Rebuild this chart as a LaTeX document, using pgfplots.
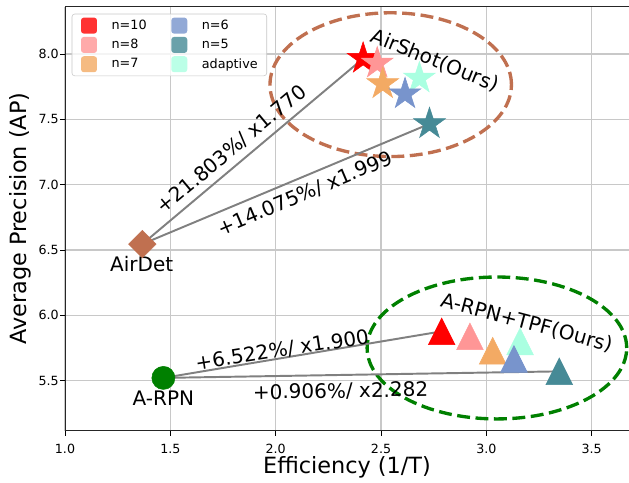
\documentclass[border=0pt]{standalone}
\usepackage{fontspec}
\setmainfont{DejaVu Sans}
\usepackage{pgfplots}
\pgfplotsset{compat=1.18}
\usetikzlibrary{arrows.meta}

\definecolor{cten}{RGB}{255,0,0}
\definecolor{ceight}{RGB}{255,150,150}
\definecolor{cseven}{RGB}{243,170,100}
\definecolor{csix}{RGB}{120,148,204}
\definecolor{cfive}{RGB}{70,138,150}
\definecolor{cada}{RGB}{170,255,225}
\definecolor{cbrown}{RGB}{192,112,80}
\definecolor{cgreen}{RGB}{0,128,0}
\definecolor{cline}{RGB}{128,128,128}
\definecolor{cgrid}{RGB}{200,200,200}

\pgfdeclareplotmark{fstar}{%
  \pgfpathmoveto{\pgfqpoint{0pt}{\pgfplotmarksize}}%
  \pgfpathlineto{\pgfqpoint{-0.2245\pgfplotmarksize}{0.309\pgfplotmarksize}}%
  \pgfpathlineto{\pgfqpoint{-0.951\pgfplotmarksize}{0.309\pgfplotmarksize}}%
  \pgfpathlineto{\pgfqpoint{-0.3633\pgfplotmarksize}{-0.118\pgfplotmarksize}}%
  \pgfpathlineto{\pgfqpoint{-0.588\pgfplotmarksize}{-0.809\pgfplotmarksize}}%
  \pgfpathlineto{\pgfqpoint{0pt}{-0.382\pgfplotmarksize}}%
  \pgfpathlineto{\pgfqpoint{0.588\pgfplotmarksize}{-0.809\pgfplotmarksize}}%
  \pgfpathlineto{\pgfqpoint{0.3633\pgfplotmarksize}{-0.118\pgfplotmarksize}}%
  \pgfpathlineto{\pgfqpoint{0.951\pgfplotmarksize}{0.309\pgfplotmarksize}}%
  \pgfpathlineto{\pgfqpoint{0.2245\pgfplotmarksize}{0.309\pgfplotmarksize}}%
  \pgfpathclose
  \pgfusepathqfillstroke}
\pgfdeclareplotmark{ftri}{%
  \pgfpathmoveto{\pgfqpoint{0pt}{\pgfplotmarksize}}%
  \pgfpathlineto{\pgfqpoint{-\pgfplotmarksize}{-\pgfplotmarksize}}%
  \pgfpathlineto{\pgfqpoint{\pgfplotmarksize}{-\pgfplotmarksize}}%
  \pgfpathclose
  \pgfusepathqfillstroke}
\pgfdeclareplotmark{fdia}{%
  \pgfpathmoveto{\pgfqpoint{0pt}{\pgfplotmarksize}}%
  \pgfpathlineto{\pgfqpoint{-\pgfplotmarksize}{0pt}}%
  \pgfpathlineto{\pgfqpoint{0pt}{-\pgfplotmarksize}}%
  \pgfpathlineto{\pgfqpoint{\pgfplotmarksize}{0pt}}%
  \pgfpathclose
  \pgfusepathqfillstroke}

\begin{document}
\begin{tikzpicture}
\begin{axis}[
  scale only axis, width=406.1pt, height=305.6pt,
  xmin=1.0, xmax=3.677, ymin=5.115, ymax=8.363,
  xtick={1.0,1.5,2.0,2.5,3.0,3.5}, ytick={5.5,6.0,6.5,7.0,7.5,8.0},
  /pgf/number format/.cd, fixed, fixed zerofill, precision=1, assume math mode=true,
  /pgfplots/.cd,
  tick label style={font=\fontsize{9.1}{11}\selectfont, color=black},
  xticklabel style={yshift=-2.3pt},
  yticklabel style={xshift=2.5pt},
  tick align=outside, tick pos=left, major tick length=3.5pt,
  tick style={line width=0.6pt, color=black},
  grid=major, grid style={color=cgrid, line width=0.8pt},
  axis line style={line width=0.7pt, color=black!85},
  xlabel={Efficiency (1/T)}, ylabel={Average Precision (AP)},
  label style={font=\fontsize{16.1}{19}\selectfont},
  xlabel style={at={(axis description cs:0.5,-0.0848)}, anchor=center},
  ylabel style={at={(axis description cs:-0.0798,0.5)}, anchor=center},
  legend columns=2,
  legend cell align=left,
  legend image code/.code={\fill[#1, draw=none] (0pt,-5.75pt) rectangle (11.5pt,5.75pt); \path[draw=none, fill=none] (0pt,0pt) -- (22pt,0pt);},
  legend style={at={(axis description cs:0.0119,0.983)}, anchor=north west,
    draw=cgrid, fill=white, fill opacity=0.8, text opacity=1, rounded corners=2pt,
    font=\fontsize{9.2}{11}\selectfont, nodes={inner sep=0pt},
    row sep=2.4pt, column sep=0pt, inner xsep=6.5pt, inner ysep=2.6pt},
]
\addlegendimage{fill=cten}\addlegendentry{\makebox[43pt][l]{n=10}}
\addlegendimage{fill=csix}\addlegendentry{n=6}
\addlegendimage{fill=ceight}\addlegendentry{\makebox[43pt][l]{n=8}}
\addlegendimage{fill=cfive}\addlegendentry{n=5}
\addlegendimage{fill=cseven}\addlegendentry{\makebox[43pt][l]{n=7}}
\addlegendimage{fill=cada}\addlegendentry{adaptive}

% ellipses
\draw[cbrown, line width=2.4pt, dash pattern=on 9.3pt off 4pt] (axis cs:2.546,7.765) ellipse [x radius=0.573, y radius=0.55];
\draw[cgreen, line width=2.4pt, dash pattern=on 9.3pt off 4pt] (axis cs:3.050,5.750) ellipse [x radius=0.616, y radius=0.543];

% baselines
\addplot[forget plot, only marks, mark=fdia, mark size=9.9pt, color=cbrown] coordinates {(1.367,6.545)};
\addplot[forget plot, only marks, mark=*, mark size=8.3pt, color=cgreen] coordinates {(1.467,5.521)};

% AirShot stars
\addplot[forget plot, only marks, mark=fstar, mark size=12pt, color=cten] coordinates {(2.415,7.965)};
\addplot[forget plot, only marks, mark=fstar, mark size=12pt, color=ceight] coordinates {(2.482,7.929)};
\addplot[forget plot, only marks, mark=fstar, mark size=12pt, color=cseven] coordinates {(2.508,7.771)};
\addplot[forget plot, only marks, mark=fstar, mark size=12pt, color=cada] coordinates {(2.682,7.814)};
\addplot[forget plot, only marks, mark=fstar, mark size=12pt, color=csix] coordinates {(2.614,7.694)};
\addplot[forget plot, only marks, mark=fstar, mark size=12pt, color=cfive] coordinates {(2.730,7.465)};

% A-RPN+TPF triangles
\addplot[forget plot, only marks, mark=ftri, mark size=9.6pt, color=cten] coordinates {(2.788,5.877)};
\addplot[forget plot, only marks, mark=ftri, mark size=9.6pt, color=ceight] coordinates {(2.922,5.839)};
\addplot[forget plot, only marks, mark=ftri, mark size=9.6pt, color=cseven] coordinates {(3.030,5.729)};
\addplot[forget plot, only marks, mark=ftri, mark size=9.6pt, color=cada] coordinates {(3.160,5.800)};
\addplot[forget plot, only marks, mark=ftri, mark size=9.6pt, color=csix] coordinates {(3.131,5.666)};
\addplot[forget plot, only marks, mark=ftri, mark size=9.6pt, color=cfive] coordinates {(3.346,5.571)};

% connecting lines
\addplot[forget plot, no marks, color=cline, line width=1.4pt, arrows={Bar[width=6pt]-Bar[width=6pt]}] coordinates {(1.367,6.545) (2.415,7.965)};
\addplot[forget plot, no marks, color=cline, line width=1.4pt, arrows={Bar[width=6pt]-Bar[width=6pt]}] coordinates {(1.367,6.545) (2.730,7.465)};
\addplot[forget plot, no marks, color=cline, line width=1.4pt, arrows={Bar[width=6pt]-Bar[width=6pt]}] coordinates {(1.467,5.521) (2.788,5.877)};
\addplot[forget plot, no marks, color=cline, line width=1.4pt, arrows={Bar[width=6pt]-Bar[width=6pt]}] coordinates {(1.467,5.521) (3.346,5.571)};

% texts
\begin{scope}[every node/.style={font=\fontsize{14.4}{17}\selectfont, inner sep=0pt}]
\node at (axis cs:1.364,6.394) {AirDet};
\node at (axis cs:1.467,5.368) {A-RPN};
\node[rotate=40] at (axis cs:1.791,7.271) {+21.803\%/ x1.770};
\node[rotate=23] at (axis cs:2.139,6.930) {+14.075\%/ x1.999};
\node[rotate=9] at (axis cs:2.031,5.732) {+6.522\%/ x1.900};
\node[rotate=1] at (axis cs:2.308,5.418) {+0.906\%/ x2.282};
\node[rotate=-22] at (axis cs:2.756,7.949) {AirShot(Ours)};
\node[rotate=-15] at (axis cs:3.191,5.941) {A-RPN+TPF(Ours)};
\end{scope}
\end{axis}
\pgfresetboundingbox
\useasboundingbox (-46.8pt,-37.44pt) rectangle (406.1pt,310.3pt);
\end{tikzpicture}
\end{document}
